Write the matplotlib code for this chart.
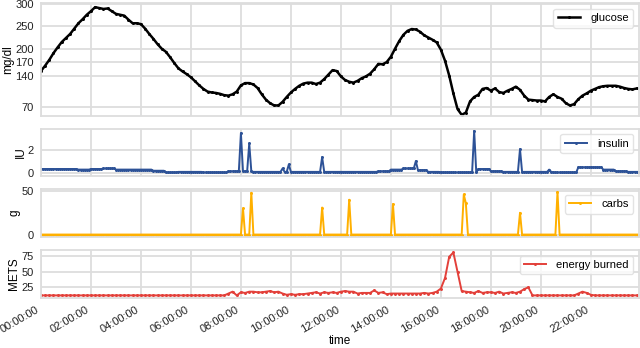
import matplotlib
matplotlib.use("Agg")
import matplotlib.pyplot as plt
import matplotlib.dates as mdates
import numpy as np
import pandas as pd

# glucose (mg/dl), one reading every 10 minutes from 00:00
glucose = [
    150, 162, 175, 190, 203, 215, 224, 233, 245, 257, 266, 276,
    284, 293, 291, 289, 290, 284, 278, 276, 274, 265, 257, 257,
    255, 245, 233, 222, 210, 200, 193, 181, 168, 156, 149, 143,
    136, 127, 118, 110, 104, 102, 101, 99, 96, 95, 98, 104,
    118, 123, 123, 120, 112, 98, 86, 78, 73, 73, 81, 92,
    102, 110, 117, 122, 124, 124, 121, 124, 132, 142, 152, 150,
    138, 130, 126, 124, 128, 134, 138, 144, 154, 166, 165, 170,
    182, 200, 217, 231, 240, 244, 243, 238, 230, 225, 220, 214,
    198, 173, 140, 100, 65, 52, 57, 82, 92, 97, 110, 112,
    106, 111, 103, 101, 106, 110, 115, 108, 95, 86, 85, 84,
    84, 82, 92, 98, 92, 88, 78, 73, 76, 87, 95, 100,
    106, 110, 114, 116, 117, 117, 117, 115, 112, 110, 109, 111,
]

# basal insulin (IU), one value per 30 minutes
insulin_basal = [
    0.35, 0.35, 0.35, 0.3, 0.35, 0.4, 0.3, 0.3, 0.3, 0.2, 0.05, 0.1,
    0.1, 0.05, 0.05, 0.15, 0.15, 0.1, 0.1, 0.1, 0.1, 0.1, 0.1, 0.1,
    0.1, 0.1, 0.1, 0.15, 0.3, 0.4, 0.25, 0.1, 0.05, 0.05, 0.05, 0.35,
    0.15, 0.1, 0.1, 0.1, 0.1, 0.05, 0.05, 0.5, 0.5, 0.3, 0.15, 0.1,
]
# insulin boluses
bolus_times = ["08:00", "08:20", "09:40", "09:55", "11:15", "15:00", "17:20", "19:10", "20:20"]
bolus_doses = [3.5, 2.6, 0.4, 0.75, 1.4, 1.05, 3.7, 2.1, 0.3]

# carbohydrate intake (g)
carb_times = ["08:05", "08:25", "11:15", "12:20", "14:05", "16:55", "17:00", "19:10", "20:40"]
carb_grams = [30, 48, 31, 40, 35, 46, 36, 25, 49]

# energy burned (METS), one value per 10 minutes
energy = [
    12, 12, 12, 12, 12, 12, 12, 12, 12, 12, 12, 12,
    12, 12, 12, 12, 12, 12, 12, 12, 12, 12, 12, 12,
    12, 12, 12, 12, 12, 12, 12, 12, 12, 12, 12, 12,
    12, 12, 12, 12, 12, 12, 12, 12, 12, 15, 18, 12,
    17, 16, 18, 18, 17, 17, 18, 19, 17, 18, 15, 13,
    14, 13, 14, 14, 15, 16, 17, 15, 17, 16, 17, 16,
    18, 19, 18, 18, 15, 16, 16, 16, 20, 16, 17, 14,
    15, 15, 15, 15, 15, 15, 15, 15, 16, 15, 16, 18,
    23, 40, 74, 81, 50, 19, 18, 17, 16, 19, 16, 17,
    17, 16, 18, 15, 16, 17, 16, 18, 22, 25, 12, 12,
    12, 12, 12, 12, 12, 12, 12, 12, 12, 15, 18, 16,
    13, 12, 12, 12, 12, 12, 12, 12, 12, 12, 12, 12,
]

day = "2020-01-01"
t5 = pd.date_range(day, periods=288, freq="5min")
t10 = pd.date_range(day, periods=144, freq="10min")

# build 5-minute insulin and carbs series from the basal rates and events
insulin = pd.Series(np.repeat(insulin_basal, 6), index=t5)
for tm, dose in zip(bolus_times, bolus_doses):
    insulin[pd.Timestamp(f"{day} {tm}")] = dose
carbs = pd.Series(0.0, index=t5)
for tm, g in zip(carb_times, carb_grams):
    carbs[pd.Timestamp(f"{day} {tm}")] = g

plt.rcParams["font.family"] = ["Liberation Sans", "DejaVu Sans"]
plt.rcParams["font.size"] = 8

fig, axes = plt.subplots(
    4, 1, figsize=(6.4, 3.48), sharex=True,
    gridspec_kw=dict(height_ratios=[2.35, 1, 1, 1]),
)
fig.subplots_adjust(left=0.064, right=0.998, top=0.991, bottom=0.144, hspace=0.2)

series = [
    (t10, glucose, "black", "glucose", "mg/dl", 1.8),
    (t5, insulin.values, "#2d5297", "insulin", "IU", 1.4),
    (t5, carbs.values, "#ffb000", "carbs", "g", 1.4),
    (t10, energy, "#e3403a", "energy burned", "METS", 1.4),
]
for ax, (x, y, color, name, unit, lw) in zip(axes, series):
    ax.plot(x, y, color=color, lw=lw, marker=".", markersize=2.3, label=name)
    ax.set_ylabel(unit, fontsize=8.5, labelpad=1)
    ax.grid(True, color="#dddddd", lw=1.3)
    ax.set_axisbelow(True)
    for sp in ax.spines.values():
        sp.set_color("#dddddd")
        sp.set_linewidth(1.3)
    ax.tick_params(length=0, pad=5, colors="#222222", labelsize=8)
    ax.legend(loc="upper right", fontsize=8, frameon=True, edgecolor="#dddddd",
              fancybox=True, borderpad=0.4, handlelength=2.0, handletextpad=0.9,
              borderaxespad=0.5)

axes[0].set_yticks([70, 140, 170, 200, 250, 300])
axes[0].set_ylim(50, 302)
axes[1].set_yticks([0, 2])
axes[1].set_ylim(-0.3, 3.9)
axes[2].set_yticks([0, 50])
axes[2].set_ylim(-3, 52)
axes[3].set_yticks([25, 50, 75])
axes[3].set_ylim(8, 85)

axes[3].set_xlim(t5[0], t5[-1])
axes[3].xaxis.set_major_locator(mdates.HourLocator(byhour=range(0, 24, 2)))
axes[3].xaxis.set_major_formatter(mdates.DateFormatter("%H:%M:%S"))
plt.setp(axes[3].get_xticklabels(), rotation=30, ha="right")
axes[3].set_xlabel("time", fontsize=8.5, labelpad=0)

fig.savefig("out.png", dpi=100)
plt.close(fig)
